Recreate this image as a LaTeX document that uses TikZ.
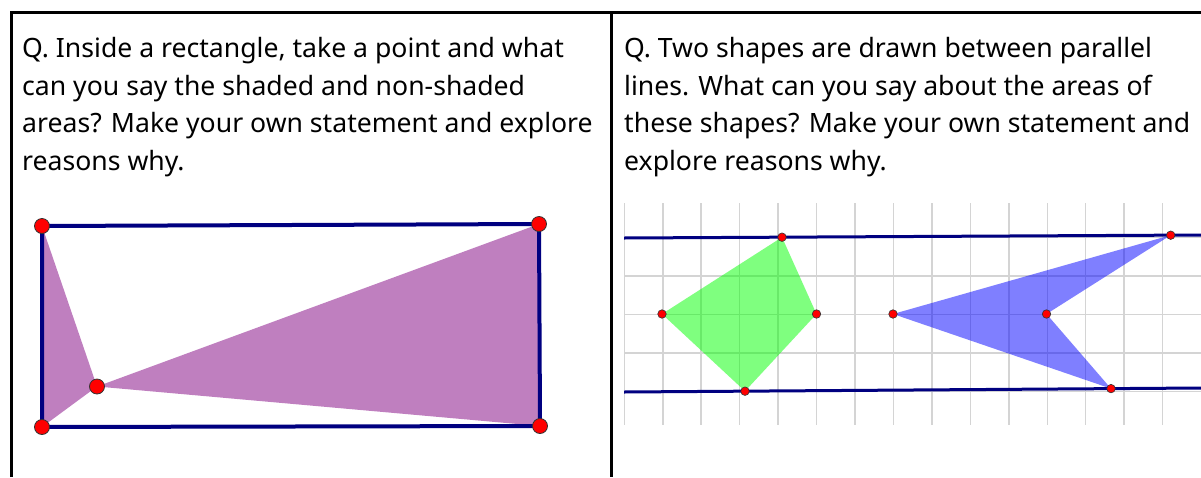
\documentclass[tikz,border=0pt]{standalone}
\usepackage{fontspec}
\setmainfont{Noto Sans}
\definecolor{geoblue}{RGB}{0,0,128}
\definecolor{gridgrey}{RGB}{212,212,212}
\definecolor{shadeC}{RGB}{128,0,128}
\definecolor{greenC}{RGB}{0,255,0}
\definecolor{blueC}{RGB}{0,0,255}
\tikzset{
  question/.style={anchor=north west, inner sep=0pt, align=left,
                   font=\fontsize{26.6}{37.7}\selectfont},
  frame/.style={draw=black, line width=3pt},
  rectline/.style={draw=geoblue, line width=4pt},
  parline/.style={draw=geoblue, line width=3pt},
  gridline/.style={draw=gridgrey, line width=1.5pt},
  region/.style={fill=#1, fill opacity=0.5},
  bigdot/.style={circle, draw=black!80, fill=red, line width=0.8pt,
                 minimum size=15pt, inner sep=0pt},
  smalldot/.style={circle, draw=black!80, fill=red, line width=0.6pt,
                   minimum size=8.5pt, inner sep=0pt},
}
\begin{document}
\begin{tikzpicture}[x=1pt, y=-1pt]
  \useasboundingbox (0,0) rectangle (1201,477);

  % table
  \draw[frame] (11.5,477) |- (1201,12);
  \draw[frame] (611.5,12) -- (611.5,477);

  \node[question] (qleft) at (22,37)
    {Q. Inside a rectangle, take a point and what\\
     can you say the shaded and non-shaded\\
     areas? Make your own statement and explore\\
     reasons why.};
  \node[question] (qright) at (624,37)
    {Q. Two shapes are drawn between parallel\\
     lines. What can you say about the areas of\\
     these shapes? Make your own statement and\\
     explore reasons why.};

  % rectangle and point
  \coordinate (tl) at (42,226);
  \coordinate (tr) at (539,224);
  \coordinate (br) at (540,426);
  \coordinate (bl) at (42,427);
  \coordinate (p)  at (97,386.5);
  \fill[region=shadeC] (tl) -- (p) -- (bl) -- cycle;
  \fill[region=shadeC] (tr) -- (p) -- (br) -- cycle;
  \draw[rectline] (tl) -- (tr) -- (br) -- (bl) -- cycle;
  \foreach \c in {tl,tr,br,bl,p}
    \node[bigdot] (dot-\c) at (\c) {};

  % grid
  \foreach \k in {0,...,14}
    \draw[gridline] (624.3+38.45*\k,203) -- (624.3+38.45*\k,424.5);
  \foreach \j in {0,...,4}
    \draw[gridline] (624,237.7+38.5*\j) -- (1201,237.7+38.5*\j);

  % two shapes
  \coordinate (g1) at (782,237.2);
  \coordinate (g2) at (816.5,314);
  \coordinate (g3) at (745,391.2);
  \coordinate (g4) at (662,314);
  \coordinate (k1) at (893,314);
  \coordinate (k2) at (1170.7,235.2);
  \coordinate (k3) at (1046.5,314);
  \coordinate (k4) at (1111,388.6);
  \fill[region=greenC] (g1) -- (g2) -- (g3) -- (g4) -- cycle;
  \fill[region=blueC] (k1) -- (k2) -- (k3) -- (k4) -- cycle;

  \coordinate (ltop) at (624,238);
  \coordinate (rtop) at (1201,235);
  \coordinate (lbot) at (624,392);
  \coordinate (rbot) at (1201,388);
  \draw[parline] (ltop) -- (rtop);
  \draw[parline] (lbot) -- (rbot);

  \foreach \c in {g1,g2,g3,g4,k1,k2,k3,k4}
    \node[smalldot] (dot-\c) at (\c) {};
\end{tikzpicture}
\end{document}
